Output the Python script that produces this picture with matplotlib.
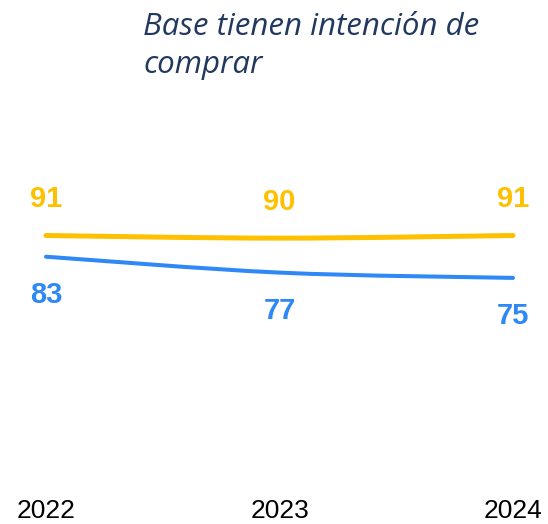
import matplotlib
matplotlib.use("Agg")
import matplotlib.pyplot as plt
from matplotlib.path import Path
from matplotlib.patches import PathPatch
import numpy as np

years = ["2022", "2023", "2024"]
yellow_vals = [91, 90, 91]
blue_vals = [83, 77, 75]
title_lines = ["Base tienen intención de", "comprar"]

YELLOW = "#FFC000"
BLUE = "#2E88F5"
TITLE_C = "#22395F"

W, H = 548, 524
fig = plt.figure(figsize=(W / 100, H / 100), dpi=100)
ax_bottom_px = 495
ax = fig.add_axes([0, (H - ax_bottom_px) / H, 1, ax_bottom_px / H])

px_per_x = (513 - 46) / 2.0
ax.set_xlim(-46 / px_per_x, 2 + (W - 513) / px_per_x)
px_per_y = 2.65
ax.set_ylim(91 - (ax_bottom_px - 235.5) / px_per_y, 91 + 235.5 / px_per_y)

xs = np.arange(len(years))


def smooth_path(x, y, t=1.0):
    pts = np.column_stack([x, y]).astype(float)
    n = len(pts)
    verts = [pts[0]]
    codes = [Path.MOVETO]
    for i in range(n - 1):
        p0 = pts[i - 1] if i > 0 else pts[i]
        p1 = pts[i]
        p2 = pts[i + 1]
        p3 = pts[i + 2] if i + 2 < n else pts[i + 1]
        c1 = p1 + (p2 - p0) / 6 * t
        c2 = p2 - (p3 - p1) / 6 * t
        verts += [c1, c2, p2]
        codes += [Path.CURVE4] * 3
    return Path(verts, codes)


for vals, col, lw in [(yellow_vals, YELLOW, 3.6), (blue_vals, BLUE, 2.9)]:
    ax.add_patch(PathPatch(smooth_path(xs, vals), fill=False, edgecolor=col,
                           lw=lw, capstyle="round"))

for x, v in zip(xs, yellow_vals):
    ax.annotate(str(v), (x, v), xytext=(0, 26), textcoords="offset points",
                ha="center", va="center", color=YELLOW, fontsize=21,
                fontweight="bold", family="Liberation Sans")
for x, v in zip(xs, blue_vals):
    ax.annotate(str(v), (x, v), xytext=(0, -27.5), textcoords="offset points",
                ha="center", va="center", color=BLUE, fontsize=21,
                fontweight="bold", family="Liberation Sans")

ax.set_xticks(xs)
ax.set_xticklabels(years, fontsize=19, family="Liberation Sans", color="black")
ax.tick_params(axis="x", length=0, pad=3)
ax.set_yticks([])
for s in ax.spines.values():
    s.set_visible(False)
ax.patch.set_alpha(0)

fig.text(143 / W, 1 - 35 / H, title_lines[0], ha="left", va="baseline",
         fontsize=22.5, style="italic", family="Open Sans", color=TITLE_C)
fig.text(143 / W, 1 - 73 / H, title_lines[1], ha="left", va="baseline",
         fontsize=22.5, style="italic", family="Open Sans", color=TITLE_C)

fig.savefig("out.png", dpi=100)
